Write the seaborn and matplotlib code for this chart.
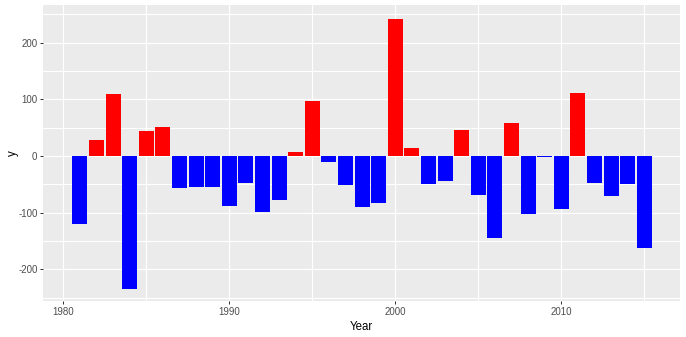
import matplotlib
matplotlib.use("Agg")
import matplotlib.pyplot as plt
import pandas as pd
import seaborn as sns

years = list(range(1981, 2016))
values = [-120, 28, 109, -234, 44, 51, -56.5, -55, -55, -88, -48, -99, -78, 7, 97,
          -10.5, -51, -90, -83, 242, 14, -49, -44, 46, -69, -145, 58, -102, -2, -93.5,
          111, -48, -70.5, -49, -162]
x_ticks = [1980, 1990, 2000, 2010]
y_ticks = [-200, -100, 0, 100, 200]
x_minor = [1985, 1995, 2005, 2015]
y_minor = [-250, -150, -50, 50, 150, 250]

df = pd.DataFrame({"Year": years, "y": values})
df["sign"] = ["pos" if v > 0 else "neg" for v in values]

plt.rcParams["font.family"] = ["Liberation Sans", "DejaVu Sans"]
plt.rcParams["axes.unicode_minus"] = False
W, H = 686, 337
fig = plt.figure(figsize=(W / 100, H / 100), dpi=100, facecolor="white")
L, R, T, B = 43, 680, 5, 301
ax = fig.add_axes([L / W, 1 - B / H, (R - L) / W, (B - T) / H], facecolor="#EBEBEB")

sns.barplot(data=df, x="Year", y="y", hue="sign", palette={"pos": "#FF0000", "neg": "#0000FF"},
            native_scale=True, dodge=False, width=0.9, legend=False, saturation=1,
            linewidth=0, ax=ax, zorder=3, errorbar=None)

ax.set_xlim(1978.78, 2017.15)
ax.set_ylim(-255.9, 266.5)
for s in ax.spines.values():
    s.set_visible(False)
ax.set_xticks(x_ticks)
ax.set_yticks(y_ticks)
ax.set_xticks(x_minor, minor=True)
ax.set_yticks(y_minor, minor=True)
ax.grid(which="both", color="white", linewidth=0.8, zorder=1)
ax.set_axisbelow(True)
ax.tick_params(which="major", length=2, width=0.72, color="#333333", labelcolor="#4D4D4D",
               labelsize=7, pad=2)
ax.tick_params(which="minor", length=0)
ax.set_xlabel("Year", fontsize=8.3, color="black", va="top")
ax.set_ylabel("y", fontsize=8.3, color="black")
ax.xaxis.set_label_coords(0.5, (B - 321) / (B - T))
ax.yaxis.set_label_coords((19 - L) / (R - L), 0.5)

fig.savefig("out.png", dpi=100, facecolor="white")
